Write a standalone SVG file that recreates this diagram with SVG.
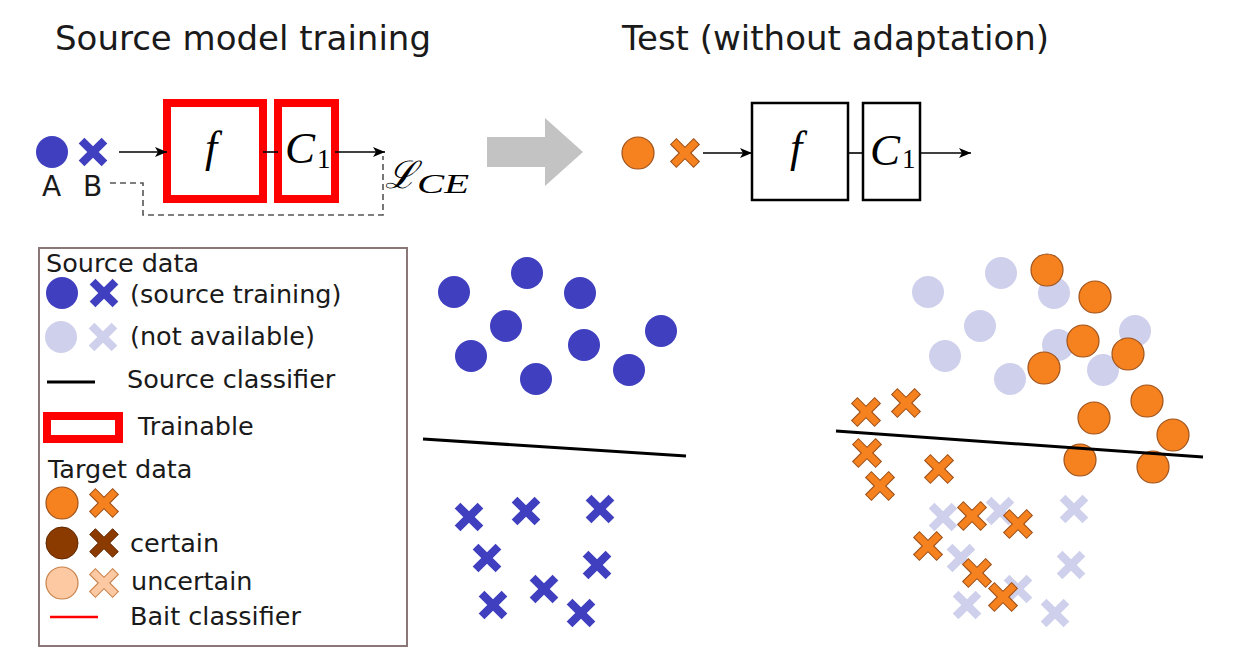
<svg xmlns="http://www.w3.org/2000/svg" width="1238" height="660" viewBox="0 0 1238 660">
<style>
.t{font-family:"DejaVu Sans",Verdana,sans-serif;fill:#1a1a1a}
.title{font-size:34px}
.lg{font-size:25.5px}
.m{font-family:"Liberation Serif","DejaVu Serif",serif;font-style:italic;fill:#000}
.sub{font-family:"Liberation Serif","DejaVu Serif",serif;fill:#000}
.b{fill:#3f3fbf}
.lb{fill:#cfd0ec}
.o{fill:#f5821f;stroke:#a0521a;stroke-width:1.2}
.br{fill:#8b3a00;stroke:#5e2700;stroke-width:1}
.lo{fill:#fdc9a3;stroke:#c8824b;stroke-width:1.2}
.red{fill:none;stroke:#ff0000;stroke-width:8}
.blk{fill:none;stroke:#000;stroke-width:2.5}
.ln{stroke:#000;stroke-width:1.6;fill:none}
</style>
<defs>
<marker id="ah" viewBox="0 0 12 10" refX="12" refY="5" markerWidth="12" markerHeight="10" markerUnits="userSpaceOnUse" orient="auto">
<path d="M0,0 L12,5 L0,10 L3,5 z" fill="#000"/>
</marker>
<polygon id="x" points="-4.5,-18 4.5,-18 4.5,-4.5 18,-4.5 18,4.5 4.5,4.5 4.5,18 -4.5,18 -4.5,4.5 -18,4.5 -18,-4.5 -4.5,-4.5" transform="rotate(45) scale(0.9)"/>
</defs>
<rect width="1238" height="660" fill="#fff"/>

<g id="titles">
<text class="t title" x="55" y="50">Source model training</text>
<text class="t title" x="622" y="50">Test (without adaptation)</text>
</g>

<g id="source-pipeline">
<circle class="b" cx="52" cy="152" r="16"/>
<use href="#x" x="93" y="152" class="b"/>
<text class="t" x="42" y="196" font-size="28">A</text>
<text class="t" x="83" y="196" font-size="28">B</text>
<g id="src-f"><rect class="red" x="167" y="103" width="96" height="96"/>
<text class="m" x="205" y="162" font-size="44">f</text></g>
<g id="src-c1"><rect class="red" x="278" y="103" width="57" height="96"/>
<text class="m" x="285" y="163" font-size="45">C</text>
<text class="sub" x="317" y="168" font-size="27">1</text></g>
<g id="loss">
<text x="385" y="188" font-family="DejaVu Serif,serif" font-size="38" font-style="italic">ℒ</text>
<text class="m" x="417" y="193" font-size="27" textLength="52" lengthAdjust="spacingAndGlyphs">CE</text>
</g>
</g>

<g id="big-arrow">
<polygon points="487,137 545,137 545,118 583,152 545,186 545,167 487,167" fill="#c3c3c3"/>
</g>

<g id="test-pipeline">
<circle class="o" cx="638" cy="153" r="16"/>
<use href="#x" x="685" y="153" class="o"/>
<g id="tst-f"><rect class="blk" x="752" y="103" width="96" height="97"/>
<text class="m" x="790" y="162" font-size="44">f</text></g>
<g id="tst-c1"><rect class="blk" x="863" y="103" width="57" height="97"/>
<text class="m" x="870" y="165" font-size="45">C</text>
<text class="sub" x="902" y="168" font-size="27">1</text></g>
</g>

<g id="connectors">
<line class="ln" x1="119" y1="152" x2="167" y2="152" marker-end="url(#ah)"/>
<line class="ln" x1="263" y1="152" x2="278" y2="152"/>
<line class="ln" x1="335" y1="152" x2="385" y2="152" marker-end="url(#ah)"/>
<path d="M110,183 H143 V215 H383 V156" fill="none" stroke="#555" stroke-width="1.6" stroke-dasharray="6,4"/>
<line class="ln" x1="703" y1="153" x2="752" y2="153" marker-end="url(#ah)"/>
<line class="ln" x1="848" y1="153" x2="863" y2="153" stroke-width="2.5"/>
<line class="ln" x1="920" y1="153" x2="971" y2="153" marker-end="url(#ah)"/>
</g>

<g id="legend">
<rect x="39" y="248" width="368" height="398" fill="none" stroke="#8a7878" stroke-width="2"/>
<text class="t lg" x="46" y="272">Source data</text>
<circle class="b" cx="62" cy="293" r="16"/>
<use href="#x" x="104" y="293" class="b"/>
<text class="t lg" x="130" y="303">(source training)</text>
<circle class="lb" cx="61" cy="337" r="16"/>
<use href="#x" x="103" y="337" class="lb"/>
<text class="t lg" x="130" y="345">(not available)</text>
<line x1="47" y1="382" x2="95" y2="382" stroke="#000" stroke-width="3"/>
<text class="t lg" x="127" y="388">Source classifier</text>
<rect class="red" x="47" y="416" width="72" height="23"/>
<text class="t lg" x="138" y="435">Trainable</text>
<text class="t lg" x="48" y="478">Target data</text>
<circle class="o" cx="62" cy="503" r="16"/>
<use href="#x" x="104" y="503" class="o"/>
<circle class="br" cx="62" cy="543" r="16"/>
<use href="#x" x="104" y="543" class="br"/>
<text class="t lg" x="130" y="552">certain</text>
<circle class="lo" cx="62" cy="583" r="16"/>
<use href="#x" x="104" y="583" class="lo"/>
<text class="t lg" x="131" y="590">uncertain</text>
<line x1="50" y1="617" x2="98" y2="617" stroke="#ff0000" stroke-width="2.5"/>
<text class="t lg" x="130" y="625">Bait classifier</text>
</g>

<g id="source-scatter">
<g class="b">
<circle cx="454" cy="292" r="16"/><circle cx="527" cy="273" r="16"/><circle cx="580" cy="293" r="16"/>
<circle cx="506" cy="326" r="16"/><circle cx="471" cy="356" r="16"/><circle cx="584" cy="345" r="16"/>
<circle cx="536" cy="379" r="16"/><circle cx="629" cy="370" r="16"/><circle cx="661" cy="331" r="16"/>
<use href="#x" x="469" y="517"/><use href="#x" x="526" y="511"/><use href="#x" x="600" y="509"/>
<use href="#x" x="487" y="558"/><use href="#x" x="597" y="565"/><use href="#x" x="544" y="589"/>
<use href="#x" x="493" y="605"/><use href="#x" x="581" y="613"/>
</g>
<line x1="423" y1="439" x2="686" y2="456" stroke="#000" stroke-width="3"/>
</g>

<g id="target-scatter">
<g class="lb">
<circle cx="928" cy="292" r="16"/><circle cx="1001" cy="273" r="16"/><circle cx="1054" cy="293" r="16"/>
<circle cx="980" cy="326" r="16"/><circle cx="945" cy="356" r="16"/><circle cx="1058" cy="345" r="16"/>
<circle cx="1010" cy="379" r="16"/><circle cx="1103" cy="370" r="16"/><circle cx="1135" cy="331" r="16"/>
<use href="#x" x="943" y="517"/><use href="#x" x="1000" y="511"/><use href="#x" x="1074" y="509"/>
<use href="#x" x="961" y="558"/><use href="#x" x="1071" y="565"/><use href="#x" x="1018" y="589"/>
<use href="#x" x="967" y="605"/><use href="#x" x="1055" y="613"/>
</g>
<g class="o">
<circle cx="1047" cy="270" r="16"/><circle cx="1095" cy="297" r="16"/><circle cx="1083" cy="341" r="16"/>
<circle cx="1128" cy="354" r="16"/><circle cx="1044" cy="368" r="16"/><circle cx="1147" cy="401" r="16"/>
<circle cx="1094" cy="418" r="16"/><circle cx="1173" cy="435" r="16"/><circle cx="1080" cy="460" r="16"/>
<circle cx="1153" cy="467" r="16"/>
<use href="#x" x="866" y="412"/><use href="#x" x="906" y="403"/><use href="#x" x="867" y="453"/>
<use href="#x" x="880" y="486"/><use href="#x" x="939" y="469"/>
<use href="#x" x="972" y="516"/><use href="#x" x="1018" y="524"/><use href="#x" x="928" y="546"/>
<use href="#x" x="977" y="573"/><use href="#x" x="1003" y="597"/>
</g>
<line x1="836" y1="431" x2="1203" y2="457" stroke="#000" stroke-width="3"/>
</g>
</svg>
